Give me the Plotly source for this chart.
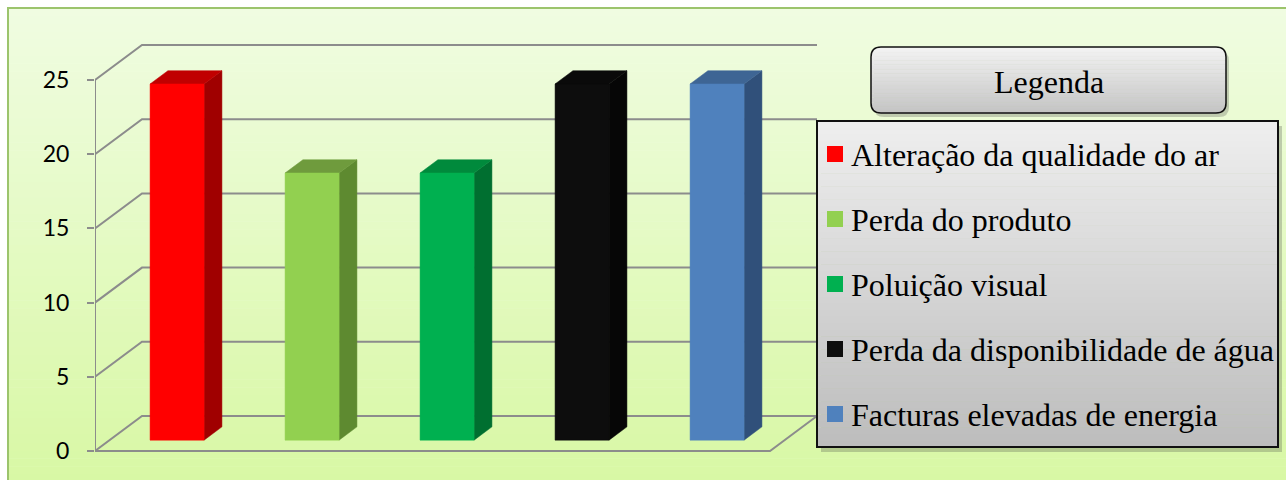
import plotly.graph_objects as go

# ---- data ----
categories = ["Alteração da qualidade do ar", "Perda do produto", "Poluição visual",
              "Perda da disponibilidade de água", "Facturas elevadas de energia"]
values = [24, 18, 18, 24, 24]
front_colors = ["#ff0000", "#92d050", "#00b050", "#0d0d0d", "#4f81bd"]
top_colors = ["#c00000", "#6f9b3d", "#008a3c", "#0a0a0a", "#3e6594"]
side_colors = ["#a00000", "#5e8a30", "#006f30", "#060606", "#30507a"]
tick_values = [0, 5, 10, 15, 20, 25]
legend_title = "Legenda"

# ---- geometry (style) ----
W, H = 1286, 480
ML, MT, MB = 95, 30, 10
PLOT_R = 830
PW = PLOT_R - ML
PH = H - MT - MB
X_RANGE = [-0.5, -0.5 + PW / 135.0]
PX_PER_UNIT = 371 / 25.0
Y_RANGE = [-(470 - 451) / PX_PER_UNIT, (451 - 30) / PX_PER_UNIT]
DX = 47 / 135.0        # depth offset in x data units
DY = 35 / PX_PER_UNIT  # depth offset in y data units
D1, D2 = 0.31, 0.69    # bar depth extent
BW = 0.4               # bar width
GRID = "#8c8c8c"


def px(x):
    return (x - ML) / PW


def py(y):
    return (H - MB - y) / PH


fig = go.Figure()
shapes = []
annotations = []

# background gradient (frame)
top_c = (0xf0, 0xfc, 0xe2)
bot_c = (0xd8, 0xf8, 0xa4)
n = 60
y0, y1 = 8, 482
for k in range(n):
    a = y0 + (y1 - y0) * k / n
    b = y0 + (y1 - y0) * (k + 1) / n + 0.5
    t = (k + 0.5) / n
    c = tuple(int(round(top_c[j] + (bot_c[j] - top_c[j]) * t)) for j in range(3))
    shapes.append(dict(type="rect", xref="paper", yref="paper", x0=px(8), x1=px(1295),
                       y0=py(b), y1=py(a), fillcolor="rgb(%d,%d,%d)" % c, line=dict(width=0),
                       layer="below"))
shapes.append(dict(type="rect", xref="paper", yref="paper", x0=px(8), x1=px(1295),
                   y0=py(490), y1=py(8), fillcolor="rgba(0,0,0,0)",
                   line=dict(color="#9cc46c", width=2), layer="below"))

# grid: diagonals + back wall lines
x_left = X_RANGE[0]
x_right = -0.5 + len(categories)
for tv in tick_values:
    fig.add_trace(go.Scatter(x=[x_left, x_left + DX, x_right + DX], y=[tv, tv + DY, tv + DY],
                             mode="lines", line=dict(color=GRID, width=2), hoverinfo="skip",
                             showlegend=False))
# front axis line
fig.add_trace(go.Scatter(x=[x_left, x_left], y=[0, tick_values[-1]], mode="lines",
                         line=dict(color=GRID, width=2), hoverinfo="skip", showlegend=False))
# floor front + right edge
fig.add_trace(go.Scatter(x=[x_left, x_right, x_right + DX], y=[0, 0, DY], mode="lines",
                         line=dict(color=GRID, width=2), hoverinfo="skip", showlegend=False))

# bars
for i, v in enumerate(values):
    xl = i - BW / 2
    xr = i + BW / 2
    # side
    fig.add_trace(go.Scatter(
        x=[xr + D1 * DX, xr + D2 * DX, xr + D2 * DX, xr + D1 * DX, xr + D1 * DX],
        y=[D1 * DY, D2 * DY, v + D2 * DY, v + D1 * DY, D1 * DY],
        fill="toself", fillcolor=side_colors[i], mode="lines",
        line=dict(color=side_colors[i], width=0.5), hoverinfo="skip", showlegend=False))
    # top
    fig.add_trace(go.Scatter(
        x=[xl + D1 * DX, xr + D1 * DX, xr + D2 * DX, xl + D2 * DX, xl + D1 * DX],
        y=[v + D1 * DY, v + D1 * DY, v + D2 * DY, v + D2 * DY, v + D1 * DY],
        fill="toself", fillcolor=top_colors[i], mode="lines",
        line=dict(color=top_colors[i], width=0.5), hoverinfo="skip", showlegend=False))
    # front
    fig.add_trace(go.Scatter(
        x=[xl + D1 * DX, xr + D1 * DX, xr + D1 * DX, xl + D1 * DX, xl + D1 * DX],
        y=[D1 * DY, D1 * DY, v + D1 * DY, v + D1 * DY, D1 * DY],
        fill="toself", fillcolor=front_colors[i], mode="lines",
        line=dict(color=front_colors[i], width=0.5), hoverinfo="text",
        text=f"{categories[i]}: {v}", showlegend=False))


def gradient_box(x0, y0, x1, y1, ctop, cbot, r=0.0, nb=50):
    out = []
    import math
    for k in range(nb):
        a = y0 + (y1 - y0) * k / nb
        b = y0 + (y1 - y0) * (k + 1) / nb
        mid = (a + b) / 2
        inset = 0.0
        if r > 0:
            if mid < y0 + r:
                d = y0 + r - mid
                inset = r - math.sqrt(max(r * r - d * d, 0))
            elif mid > y1 - r:
                d = mid - (y1 - r)
                inset = r - math.sqrt(max(r * r - d * d, 0))
        t = (k + 0.5) / nb
        c = tuple(int(round(ctop[j] + (cbot[j] - ctop[j]) * t)) for j in range(3))
        out.append(dict(type="rect", xref="paper", yref="paper", x0=px(x0 + inset), x1=px(x1 - inset),
                        y0=py(b + 0.4), y1=py(a), fillcolor="rgb(%d,%d,%d)" % c,
                        line=dict(width=0), layer="above"))
    return out


def rounded_path(x0, y0, x1, y1, r):
    X = lambda v: px(v)
    Y = lambda v: py(v)
    return (f"M {X(x0 + r)},{Y(y0)} L {X(x1 - r)},{Y(y0)} Q {X(x1)},{Y(y0)} {X(x1)},{Y(y0 + r)} "
            f"L {X(x1)},{Y(y1 - r)} Q {X(x1)},{Y(y1)} {X(x1 - r)},{Y(y1)} "
            f"L {X(x0 + r)},{Y(y1)} Q {X(x0)},{Y(y1)} {X(x0)},{Y(y1 - r)} "
            f"L {X(x0)},{Y(y0 + r)} Q {X(x0)},{Y(y0)} {X(x0 + r)},{Y(y0)} Z")


# Legenda title box
tx0, ty0, tx1, ty1 = 871, 47, 1226, 113
shapes.append(dict(type="path", xref="paper", yref="paper", path=rounded_path(tx0 + 3, ty0 + 4, tx1 + 3, ty1 + 4, 10),
                   fillcolor="rgba(60,60,60,0.25)", line=dict(width=0), layer="above"))
shapes += gradient_box(tx0, ty0, tx1, ty1, (0xf3, 0xf3, 0xf3), (0xc4, 0xc4, 0xc4), r=10)
shapes.append(dict(type="path", xref="paper", yref="paper", path=rounded_path(tx0, ty0, tx1, ty1, 10),
                   fillcolor="rgba(0,0,0,0)", line=dict(color="#111111", width=1.5), layer="above"))
annotations.append(dict(xref="paper", yref="paper", x=px((tx0 + tx1) / 2), y=py(82), text=legend_title,
                        showarrow=False, xanchor="center", yanchor="middle",
                        font=dict(family="Liberation Serif", size=32, color="black")))

# Legend box
lx0, ly0, lx1, ly1 = 817, 121, 1278, 447
shapes.append(dict(type="rect", xref="paper", yref="paper", x0=px(lx0 + 4), x1=px(lx1 + 4),
                   y0=py(ly1 + 5), y1=py(ly0 + 5), fillcolor="rgba(60,60,60,0.25)",
                   line=dict(width=0), layer="above"))
shapes += gradient_box(lx0, ly0, lx1, ly1, (0xee, 0xee, 0xee), (0xbd, 0xbd, 0xbd), r=0)
shapes.append(dict(type="rect", xref="paper", yref="paper", x0=px(lx0), x1=px(lx1),
                   y0=py(ly1), y1=py(ly0), fillcolor="rgba(0,0,0,0)",
                   line=dict(color="#111111", width=2), layer="above"))
for i, cat in enumerate(categories):
    cy = 154 + 65 * i
    shapes.append(dict(type="rect", xref="paper", yref="paper", x0=px(827), x1=px(843),
                       y0=py(cy + 8), y1=py(cy - 8), fillcolor=front_colors[i],
                       line=dict(width=0), layer="above"))
    annotations.append(dict(xref="paper", yref="paper", x=px(849), y=py(cy + 1), text=cat,
                            showarrow=False, xanchor="left", yanchor="middle",
                            font=dict(family="Liberation Serif", size=32, color="black")))

fig.update_layout(
    width=W, height=H,
    margin=dict(l=ML, r=W - PLOT_R, t=MT, b=MB, pad=0),
    paper_bgcolor="white", plot_bgcolor="rgba(0,0,0,0)",
    shapes=shapes, annotations=annotations,
    xaxis=dict(range=X_RANGE, visible=False, fixedrange=True),
    yaxis=dict(range=Y_RANGE, tickvals=tick_values, ticktext=[str(t) for t in tick_values],
               ticks="outside", ticklen=7, tickwidth=2, tickcolor=GRID,
               showgrid=False, zeroline=False, showline=False, automargin=False,
               ticklabelstandoff=13,
               tickfont=dict(family="Lato", size=23, color="black"), fixedrange=True),
    showlegend=False,
)

fig.write_html("out.html")
